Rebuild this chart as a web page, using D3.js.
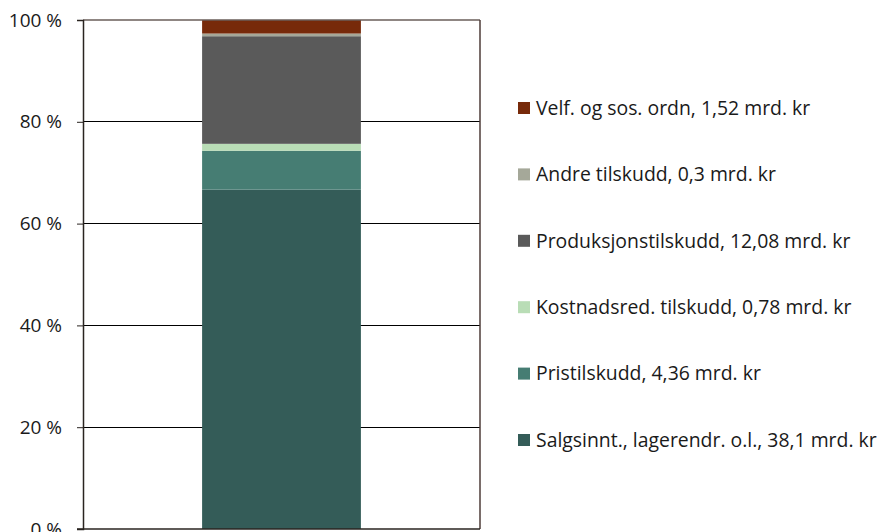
<!DOCTYPE html>
<html><head><meta charset="utf-8">
<script src="https://cdn.jsdelivr.net/npm/d3@7"></script>
<style>body{margin:0;background:#fff}svg{display:block}text{font-family:"Open Sans",sans-serif;fill:#1a1a1a}</style>
</head><body><svg id="c" width="880" height="532"></svg>
<script>
const categories = ["Salgsinnt., lagerendr. o.l., 38,1 mrd. kr","Pristilskudd, 4,36 mrd. kr","Kostnadsred. tilskudd, 0,78 mrd. kr","Produksjonstilskudd, 12,08 mrd. kr","Andre tilskudd, 0,3 mrd. kr","Velf. og sos. ordn, 1,52 mrd. kr"];
const values = [38.1, 4.36, 0.78, 12.08, 0.3, 1.52];
const colors = ["#345c58","#467d73","#b9ddb6","#5a5a5a","#a5a899","#772a0a"];
const ticks = [0,20,40,60,80,100];

const svg = d3.select("#c");
const L=83, R=480, T=20, B=529;
const y = d3.scaleLinear().domain([0,100]).range([B,T]);
const x = d3.scaleBand().domain(["a"]).range([L,R]).paddingInner(0.6).paddingOuter(0.3);
const total = d3.sum(values);
let acc=0;
const segs = values.map((v,i)=>{const s={y0:acc,y1:acc+v/total*100,c:colors[i]};acc=s.y1;return s;});

svg.append("g").selectAll("line").data(ticks.filter(t=>t>0&&t<100)).join("line")
 .attr("x1",L).attr("x2",R).attr("y1",d=>y(d)).attr("y2",d=>y(d)).attr("stroke","#000").attr("stroke-width",1).attr("shape-rendering","crispEdges");
svg.append("g").selectAll("rect").data(segs).join("rect")
 .attr("x",x("a")).attr("width",x.bandwidth())
 .attr("y",d=>y(d.y1)).attr("height",d=>y(d.y0)-y(d.y1)).attr("fill",d=>d.c);
svg.append("line").attr("x1",L).attr("x2",R).attr("y1",T).attr("y2",T).attr("stroke","#6a5e5a").attr("stroke-width",1.5);
svg.append("line").attr("x1",R).attr("x2",R).attr("y1",T).attr("y2",B).attr("stroke","#4e3d39").attr("stroke-width",1.5);
const ax = svg.append("g").attr("transform",`translate(${L},0)`).call(d3.axisLeft(y).tickValues(ticks).tickFormat(d=>d+" %").tickSize(6).tickPadding(15));
ax.select(".domain").attr("stroke","#2a2420").attr("stroke-width",1.5);
ax.selectAll(".tick line").attr("stroke","#2a2420");
ax.selectAll("text").style("font-size","19px").style("font-family","'Open Sans',sans-serif").attr("fill","#1a1a1a");
svg.append("line").attr("x1",L-6).attr("x2",R).attr("y1",B).attr("y2",B).attr("stroke","#2a2420").attr("stroke-width",1.5);

const legY = d3.scalePoint().domain(d3.range(6)).range([440,108]);
const lg = svg.append("g").selectAll("g").data(categories).join("g").attr("transform",(d,i)=>`translate(518,${legY(i)})`);
lg.append("rect").attr("x",0).attr("y",-6).attr("width",12).attr("height",12).attr("fill",(d,i)=>colors[i]);
lg.append("text").attr("x",18).attr("dy","0.35em").style("font-size","19.4px").text(d=>d);
</script></body></html>
